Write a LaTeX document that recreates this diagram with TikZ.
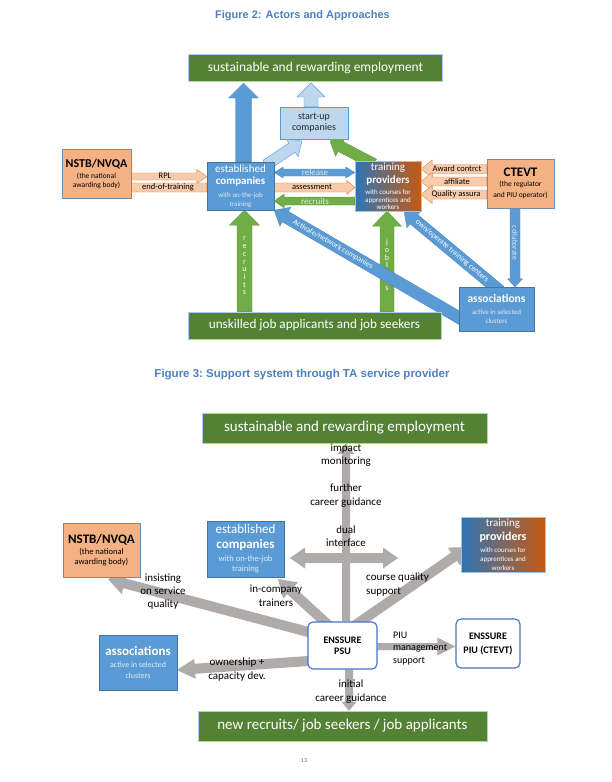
\documentclass[tikz,border=0pt]{standalone}
\usepackage{fontspec}
\setmainfont{Carlito}
\newfontfamily\titlefont{Liberation Sans}
\usetikzlibrary{calc}
\pgfdeclarelayer{bg}
\pgfdeclarelayer{arrows}
\pgfsetlayers{bg,arrows,main}
\definecolor{dgreen}{HTML}{548235}
\definecolor{lgreen}{HTML}{70AD47}
\definecolor{mblue}{HTML}{5B9BD5}
\definecolor{lblue}{HTML}{BDD7EE}
\definecolor{paleblue}{HTML}{DDEBF7}
\definecolor{palegreen}{HTML}{E2F0D9}
\definecolor{peach}{HTML}{F8CBAD}
\definecolor{orangebox}{HTML}{F4B183}
\definecolor{peachborder}{HTML}{ED7D31}
\definecolor{titleblue}{HTML}{4F81BD}
\definecolor{tpblue}{HTML}{2E75B6}
\definecolor{tporange}{HTML}{C55A11}
\definecolor{garrow}{HTML}{AFABAB}
\definecolor{psublue}{HTML}{4472C4}
\newcommand\fs[2]{\fontsize{#1}{#2}\selectfont}
% block arrow: from, to, shaft half width, head half width, head length, style
\newcommand\barrow[6]{%
  \coordinate (barrowC) at ($(#2)!#5!(#1)$);
  \path[#6] ($(#1)!#3!90:(#2)$) -- ($(barrowC)!#3!90:(#2)$) -- ($(barrowC)!#4!90:(#2)$) -- (#2)
    -- ($(barrowC)!#4!-90:(#2)$) -- ($(barrowC)!#3!-90:(#2)$) -- ($(#1)!#3!-90:(#2)$) -- cycle;}
% double block arrow
\newcommand\dbarrow[6]{%
  \coordinate (dbC1) at ($(#1)!#5!(#2)$);
  \coordinate (dbC2) at ($(#2)!#5!(#1)$);
  \path[#6] (#1) -- ($(dbC1)!#4!90:(#2)$) -- ($(dbC1)!#3!90:(#2)$) -- ($(dbC2)!#3!90:(#2)$) -- ($(dbC2)!#4!90:(#2)$) -- (#2)
    -- ($(dbC2)!#4!-90:(#2)$) -- ($(dbC2)!#3!-90:(#2)$) -- ($(dbC1)!#3!-90:(#2)$) -- ($(dbC1)!#4!-90:(#2)$) -- cycle;}
\begin{document}
\begin{tikzpicture}[x=1pt,y=-1pt,
  every node/.style={inner sep=0pt, align=center},
  sz/.style 2 args={minimum width=#1, minimum height=#2},
  gbar/.style={fill=dgreen, draw=mblue!50, line width=0.4pt, text=white},
  bbox/.style={fill=mblue, draw=mblue!75!black, line width=0.3pt, text=white},
  obox/.style={fill=orangebox, draw=mblue!50!gray, line width=0.4pt, text=black},
  lbox/.style={fill=lblue, draw=mblue, line width=0.4pt, text=black!85},
  tpbox/.style={left color=tpblue, right color=tporange, draw=mblue!60, line width=0.3pt, text=white},
  psubox/.style={fill=white, draw=psublue, line width=1.1pt, rounded corners=5pt, text=black},
  bluearrow/.style={fill=mblue, draw=mblue!85!black, line width=0.3pt},
  lbluearrow/.style={fill=lblue, draw=mblue, line width=0.4pt},
  greenarrow/.style={fill=lgreen, draw=lgreen!85!black, line width=0.3pt},
  peacharrow/.style={fill=peach, draw=peachborder, line width=0.4pt},
  grayarrow/.style={fill=garrow},
  albl/.style={font=\fs{8.5}{9}, text=black},
  glbl/.style={font=\fs{11}{13.5}, text=black},
  ttl/.style={font=\titlefont\bfseries\fs{11}{13}, text=titleblue}
]
\begin{pgfonlayer}{bg}
\fill[white] (0,0) rectangle (611,782);
\end{pgfonlayer}
\useasboundingbox (0,0) rectangle (611,782);

%================ FIGURE 2 =================
\node[ttl] (title2) at (302.5,16) {Figure 2: Actors and Approaches};

\node[gbar, sz={254pt}{27pt}, font=\fs{13.4}{15}] (emp2) at (315.5,67.5) {sustainable and rewarding employment};
\node[lbox, sz={68pt}{32pt}, font=\fs{10}{11}] (startup) at (314,123) {start-up\\companies};
\node[bbox, sz={67pt}{48pt}, font=\fs{11}{12}] (comp2) at (240.5,186)
  {established\\{\bfseries companies}\\[1pt]{\fs{7}{8}\color{paleblue}with on-the-job}\\[-3pt]{\fs{7}{8}\color{paleblue}training}};
\node[tpbox, sz={66pt}{50pt}, font=\fs{11}{13}] (tp2) at (388,186)
  {training\\{\bfseries providers}\\[-2pt]{\fs{7}{8}with courses for}\\[-5pt]{\fs{7}{8}apprentices and}\\[-6pt]{\fs{7}{8}workers}};
\node[obox, sz={69pt}{49pt}, font=\fs{12}{11}] (nstb2) at (96.5,173.5)
  {{\bfseries NSTB/NVQA}\\{\fs{7.5}{8}(the national}\\[-2pt]{\fs{7.5}{8}awarding body)}};
\node[obox, sz={67pt}{49pt}, font=\fs{13}{10.5}] (ctevt) at (520.5,183.5)
  {{\bfseries CTEVT}\\[-0.5pt]{\fs{7.5}{8}(the regulator}\\{\fs{7.5}{8}and PIU operator)}};
\node[bbox, sz={75pt}{44pt}, font=\fs{11.5}{12}] (assoc2) at (496.5,309)
  {{\bfseries associations}\\{\fs{7}{8}\color{paleblue}active in selected}\\[-3pt]{\fs{7}{8}\color{paleblue}clusters}};
\node[gbar, sz={253pt}{27pt}, font=\fs{13.2}{15}] (unsk) at (314.5,325.5) {unskilled job applicants and job seekers};

\begin{pgfonlayer}{arrows}
  % up to employment
  \coordinate (e1a) at (243.5,0 |- comp2.north); \coordinate (e1b) at (243.5,83);
  \barrow{e1a}{e1b}{8pt}{15pt}{15pt}{bluearrow}
  \coordinate (e2a) at (311,0 |- startup.north); \coordinate (e2b) at (311,83);
  \barrow{e2a}{e2b}{7pt}{14pt}{14pt}{lbluearrow}
  % to start-up
  \coordinate (s2a) at (266,165); \coordinate (s2b) at (302,141);
  \barrow{s2a}{s2b}{5.5pt}{11pt}{12pt}{lbluearrow}
  \coordinate (s3a) at (374,164); \coordinate (s3b) at (330,141);
  \barrow{s3a}{s3b}{5.5pt}{11pt}{12pt}{greenarrow}
  % NSTB to companies
  \coordinate (r1a) at (nstb2.east |- 0,176.5); \coordinate (r1b) at (comp2.west |- 0,176.5);
  \barrow{r1a}{r1b}{3.5pt}{7pt}{10pt}{peacharrow}
  \coordinate (r2a) at (nstb2.east |- 0,187.5); \coordinate (r2b) at (comp2.west |- 0,187.5);
  \barrow{r2a}{r2b}{4.5pt}{4.5pt}{0.1pt}{peacharrow}
  % companies <-> providers
  \coordinate (m1a) at (comp2.east |- 0,172.5); \coordinate (m1b) at (tp2.west |- 0,172.5);
  \dbarrow{m1a}{m1b}{3.5pt}{5.5pt}{9pt}{bluearrow}
  \coordinate (m2a) at (comp2.east |- 0,187.5); \coordinate (m2b) at (tp2.west |- 0,187.5);
  \barrow{m2a}{m2b}{4.5pt}{7pt}{8pt}{peacharrow}
  \coordinate (m3a) at (tp2.west |- 0,201); \coordinate (m3b) at (comp2.east |- 0,201);
  \barrow{m3a}{m3b}{4pt}{7pt}{10pt}{greenarrow}
  % CTEVT to providers
  \coordinate (k1a) at (ctevt.west |- 0,169); \coordinate (k1b) at (tp2.east |- 0,169);
  \barrow{k1a}{k1b}{4.5pt}{9pt}{11pt}{peacharrow}
  \coordinate (k2a) at (ctevt.west |- 0,181.5); \coordinate (k2b) at (tp2.east |- 0,181.5);
  \barrow{k2a}{k2b}{4.5pt}{9pt}{11pt}{peacharrow}
  \coordinate (k3a) at (ctevt.west |- 0,194.5); \coordinate (k3b) at (tp2.east |- 0,194.5);
  \barrow{k3a}{k3b}{4.5pt}{9pt}{11pt}{peacharrow}
  % collaborate
  \coordinate (co1) at (515,0 |- ctevt.south); \coordinate (co2) at (515,0 |- assoc2.north);
  \barrow{co1}{co2}{5pt}{7.5pt}{8pt}{bluearrow}
  \node[font=\fs{7.5}{8}, text=paleblue, rotate=-90] (lcoll) at (515,243) {collaborate};
  % vertical green arrows
  \coordinate (g1a) at (244.5,0 |- unsk.north); \coordinate (g1b) at (244.5,0 |- comp2.south);
  \barrow{g1a}{g1b}{7.5pt}{15pt}{15pt}{greenarrow}
  \node[font=\fs{8}{7.7}, text=white] (lrec) at (244.5,266) {r\\e\\c\\r\\u\\i\\t\\s};
  \coordinate (g2a) at (387,0 |- unsk.north); \coordinate (g2b) at (387,0 |- tp2.south);
  \barrow{g2a}{g2b}{7pt}{14.5pt}{15pt}{greenarrow}
  \node[font=\fs{8}{7.6}, text=white] (ljob) at (387,265) {j\\o\\b\\l\\e\\s\\s};
  % diagonal arrows from associations
  \coordinate (d1a) at (470,324); \coordinate (d1b) at (comp2.south east);
  \barrow{d1a}{d1b}{6pt}{11pt}{13pt}{bluearrow}
  \path (d1a) -- (d1b) node[pos=0.7, sloped, font=\fs{7.8}{8}, text=white] (lact) {Activate/network companies};
  \coordinate (d2a) at (500,291); \coordinate (d2b) at (404,211);
  \barrow{d2a}{d2b}{6pt}{11pt}{13pt}{bluearrow}
  \path (d2a) -- (d2b) node[pos=0.5, sloped, font=\fs{7.8}{8}, text=white] (lown) {own/operate training centers};
\end{pgfonlayer}

\node[albl] (lrpl) at (165,175.5) {RPL};
\node[albl] (leot) at (168,187.5) {end-of-training};
\node[albl, font=\fs{9}{9}, text=paleblue] (lrel) at (315,172.5) {release};
\node[albl] (lass) at (312,187) {assessment};
\node[albl, font=\fs{9}{9}, text=palegreen] (lrcr) at (315,201) {recruits};
\node[albl] (laward) at (457,169) {Award contrct};
\node[albl] (laff) at (457,181.5) {affiliate};
\node[albl] (lqua) at (456,194.5) {Quality assura};

%================ FIGURE 3 =================
\node[ttl, font=\titlefont\bfseries\fs{11.5}{13}] (title3) at (302,375) {Figure 3:\ Support system through TA service provider};

\node[gbar, sz={285pt}{30pt}, font=\fs{15}{17}] (emp3) at (344.5,428) {sustainable and rewarding employment};
\node[bbox, sz={77pt}{56pt}, font=\fs{13}{15}] (comp3) at (245.5,549)
  {established\\{\bfseries companies}\\[-2pt]{\fs{8.5}{9}\color{paleblue}with on-the-job}\\[-5pt]{\fs{8.5}{9}\color{paleblue}training}};
\node[obox, sz={77pt}{54pt}, font=\fs{13}{11}] (nstb3) at (101.5,550)
  {{\bfseries NSTB/NVQA}\\{\fs{8.5}{9}(the national}\\[-1pt]{\fs{8.5}{9}awarding body)}};
\node[tpbox, sz={84pt}{55pt}, font=\fs{11}{14}] (tp3) at (503,544.5)
  {training\\{\fs{12}{12}\bfseries providers}\\[-2pt]{\fs{7}{8}with courses for}\\[-5pt]{\fs{7}{8}apprentices and}\\[-5pt]{\fs{7}{8}workers}};
\node[psubox, sz={69pt}{47pt}, font=\fs{10}{11}\bfseries] (psu) at (342.5,645.5) {ENSSURE\\PSU};
\node[psubox, sz={64pt}{49pt}, font=\fs{10}{14}\bfseries] (piu) at (488,643.5) {ENSSURE\\PIU (CTEVT)};
\node[bbox, sz={78pt}{55pt}, font=\fs{13}{12}] (assoc3) at (138,662.5)
  {{\bfseries associations}\\{\fs{8}{9}\color{paleblue}active in selected}\\[-1pt]{\fs{8}{9}\color{paleblue}clusters}};
\node[gbar, sz={289pt}{30pt}, font=\fs{15}{17}] (new3) at (342.5,726) {new recruits/ job seekers / job applicants};

\begin{pgfonlayer}{arrows}
  \coordinate (v1a) at (346,0 |- psu.north); \coordinate (v1b) at (346,0 |- emp3.south);
  \barrow{v1a}{v1b}{4pt}{8.5pt}{11pt}{grayarrow}
  \coordinate (h1a) at (290,558); \coordinate (h1b) at (398,558);
  \dbarrow{h1a}{h1b}{5pt}{10.5pt}{15pt}{grayarrow}
  \coordinate (n1a) at (316,634); \coordinate (n1b) at (108,579);
  \barrow{n1a}{n1b}{5pt}{11pt}{17pt}{grayarrow}
  \coordinate (c1a) at (331,627.5); \coordinate (c1b) at (278,579);
  \barrow{c1a}{c1b}{5pt}{11pt}{17pt}{grayarrow}
  \coordinate (p1a) at (354,626); \coordinate (p1b) at (468,547);
  \barrow{p1a}{p1b}{5pt}{11pt}{17pt}{grayarrow}
  \coordinate (i1a) at (psu.east |- 0,646.5); \coordinate (i1b) at (piu.west |- 0,646.5);
  \barrow{i1a}{i1b}{3.5pt}{9pt}{18pt}{grayarrow}
  \coordinate (a1a) at (316,660.5); \coordinate (a1b) at (177,670);
  \barrow{a1a}{a1b}{5pt}{10pt}{18pt}{grayarrow}
  \coordinate (b1a) at (349,0 |- psu.south); \coordinate (b1b) at (349,0 |- new3.north);
  \barrow{b1a}{b1b}{4pt}{7.5pt}{9pt}{grayarrow}
\end{pgfonlayer}

\node[glbl] (limp) at (346,455) {impact\\monitoring};
\node[glbl, font=\fs{11}{14.5}] (lfur) at (346,495.5) {further\\career guidance};
\node[glbl, font=\fs{11}{13}] (ldual) at (346,536.5) {dual\\interface};
\node[glbl, font=\fs{11}{13}] (lins) at (163,592) {insisting\\on service\\quality};
\node[glbl, font=\fs{11}{14}] (linc) at (276,596) {in-company\\trainers};
\node[glbl, align=left, anchor=west, font=\fs{11}{14}] (lcq) at (366,585) {course quality\\support};
\node[glbl, align=left, anchor=west, font=\fs{10}{12.5}] (lpiu) at (393,648.5) {PIU\\management\\support};
\node[glbl, font=\fs{11}{14}] (lown3) at (237,670) {ownership +\\capacity dev.};
\node[glbl, font=\fs{11}{14}] (linit) at (351,692) {initial\\career guidance};

\node[font=\fs{6}{7}, text=black!60] (pagenum) at (304,761) {13};
\end{tikzpicture}
\end{document}
